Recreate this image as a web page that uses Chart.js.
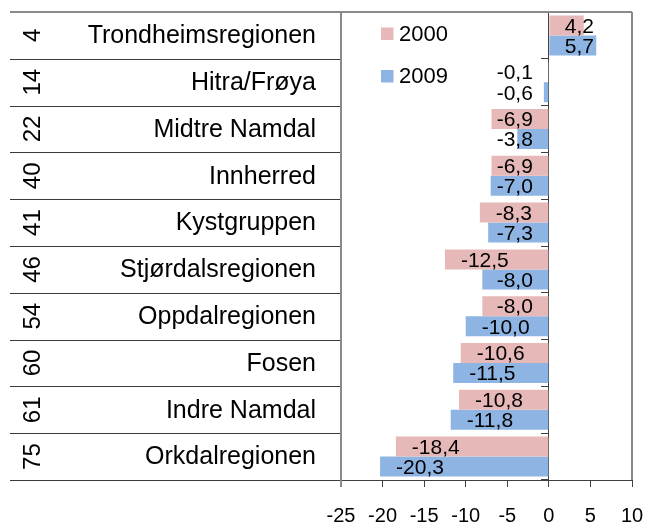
<!DOCTYPE html>
<html>
<head>
<meta charset="utf-8">
<script src="https://cdn.jsdelivr.net/npm/chart.js@4.4.0/dist/chart.umd.min.js"></script>
<style>
  html, body { margin: 0; padding: 0; background: #fff; }
  #wrap { width: 645px; height: 523px; }
</style>
</head>
<body>
<div id="wrap"><canvas id="chart" width="645" height="523"></canvas></div>
<script>
const regions = ['Trondheimsregionen', 'Hitra/Frøya', 'Midtre Namdal', 'Innherred', 'Kystgruppen',
  'Stjørdalsregionen', 'Oppdalregionen', 'Fosen', 'Indre Namdal', 'Orkdalregionen'];
const ranks = ['4', '14', '22', '40', '41', '46', '54', '60', '61', '75'];
const values2000 = [4.2, -0.1, -6.9, -6.9, -8.3, -12.5, -8.0, -10.6, -10.8, -18.4];
const values2009 = [5.7, -0.6, -3.8, -7.0, -7.3, -8.0, -10.0, -11.5, -11.8, -20.3];
const xTicks = [-25, -20, -15, -10, -5, 0, 5, 10];

const FONT = "'Liberation Sans', Arial, sans-serif";
const PINK = '#e6b9b8';
const BLUE = '#8eb4e3';

function fmt(v) {
  return v.toFixed(1).replace('.', ',');
}

// left table: rank column + region names + row lines
const tablePlugin = {
  id: 'table',
  afterDraw(chart) {
    const { ctx, chartArea } = chart;
    const y = chart.scales.y;
    ctx.save();
    // row lines
    ctx.strokeStyle = '#3a3a3a';
    ctx.lineWidth = 1;
    for (let i = 1; i <= regions.length; i++) {
      const py = Math.round(y.getPixelForValue(i - 0.5)) + 0.5;
      ctx.beginPath();
      ctx.moveTo(10, py);
      ctx.lineTo(chartArea.left, py);
      ctx.stroke();
    }
    // plot frame (gray)
    ctx.strokeStyle = '#8a8a8a';
    ctx.lineWidth = 2;
    ctx.beginPath();
    ctx.moveTo(10, chartArea.top);
    ctx.lineTo(chartArea.right, chartArea.top);
    ctx.moveTo(chartArea.left, chartArea.top);
    ctx.lineTo(chartArea.left, chartArea.bottom + 7);
    ctx.moveTo(chartArea.right, chartArea.top);
    ctx.lineTo(chartArea.right, chartArea.bottom);
    ctx.stroke();

    ctx.fillStyle = '#000';
    regions.forEach((name, i) => {
      const cy = y.getPixelForValue(i);
      ctx.font = '25px ' + FONT;
      ctx.textAlign = 'right';
      ctx.textBaseline = 'middle';
      ctx.fillText(name, 316, cy + 1);

      ctx.save();
      ctx.translate(33.5, cy);
      ctx.rotate(-Math.PI / 2);
      ctx.textAlign = 'center';
      ctx.font = '24px ' + FONT;
      ctx.fillText(ranks[i], 0, 0);
      ctx.restore();
    });
    ctx.restore();
  }
};

// value labels, kept inside the bar end but clear of the zero axis
const labelPlugin = {
  id: 'barLabels',
  afterDatasetsDraw(chart) {
    const { ctx } = chart;
    const zero = chart.scales.x.getPixelForValue(0);
    ctx.save();
    ctx.font = '21px ' + FONT;
    ctx.fillStyle = '#000';
    ctx.textAlign = 'left';
    ctx.textBaseline = 'middle';
    chart.data.datasets.forEach((ds, di) => {
      const meta = chart.getDatasetMeta(di);
      meta.data.forEach((bar, i) => {
        const v = ds.data[i];
        const t = fmt(v);
        const w = ctx.measureText(t).width;
        let left;
        if (v < 0) left = Math.min(bar.x + 16, zero - 16 - w);
        else left = Math.max(bar.x - 16 - w, zero + 16);
        ctx.fillText(t, left, bar.y + 1.5);
      });
    });
    ctx.restore();
  }
};

// legend inside the plot area, top left
const legendPlugin = {
  id: 'innerLegend',
  afterDraw(chart) {
    const { ctx } = chart;
    ctx.save();
    ctx.font = '22px ' + FONT;
    ctx.textBaseline = 'middle';
    ctx.textAlign = 'left';
    chart.data.datasets.forEach((ds, i) => {
      const cy = 33.5 + i * 42.5;
      ctx.fillStyle = ds.backgroundColor;
      ctx.fillRect(381, cy - 6, 12.5, 12.5);
      ctx.fillStyle = '#000';
      ctx.fillText(ds.label, 399, cy + 1);
    });
    ctx.restore();
  }
};

new Chart(document.getElementById('chart').getContext('2d'), {
  type: 'bar',
  data: {
    labels: regions,
    datasets: [
      { label: '2000', data: values2000, backgroundColor: PINK, borderWidth: 0,
        categoryPercentage: 0.855, barPercentage: 1.0 },
      { label: '2009', data: values2009, backgroundColor: BLUE, borderWidth: 0,
        categoryPercentage: 0.855, barPercentage: 1.0 }
    ]
  },
  options: {
    indexAxis: 'y',
    responsive: false,
    animation: false,
    layout: { padding: { left: 341, top: 12, right: 13, bottom: 0 } },
    plugins: {
      legend: { display: false },
      tooltip: { enabled: false }
    },
    scales: {
      x: {
        type: 'linear',
        position: 'bottom',
        min: -25,
        max: 10,
        afterBuildTicks: s => { s.ticks = xTicks.map(v => ({ value: v })); },
        afterFit: s => { s.height = 43; s.paddingLeft = 0; s.paddingRight = 0; },
        grid: { drawOnChartArea: false, drawTicks: true, tickLength: 7, color: '#404040' },
        border: { color: '#404040', width: 1 },
        ticks: { font: { family: FONT, size: 20 }, color: '#000', padding: 17,
          maxRotation: 0, autoSkip: false }
      },
      y: {
        type: 'category',
        position: { x: 0 },
        offset: true,
        z: 1,
        afterFit: s => { s.width = 0; },
        grid: { drawOnChartArea: false, drawTicks: true, tickLength: 7, color: '#404040', offset: true },
        border: { color: '#404040', width: 1 },
        ticks: { display: false }
      }
    }
  },
  plugins: [tablePlugin, labelPlugin, legendPlugin]
});
</script>
</body>
</html>
